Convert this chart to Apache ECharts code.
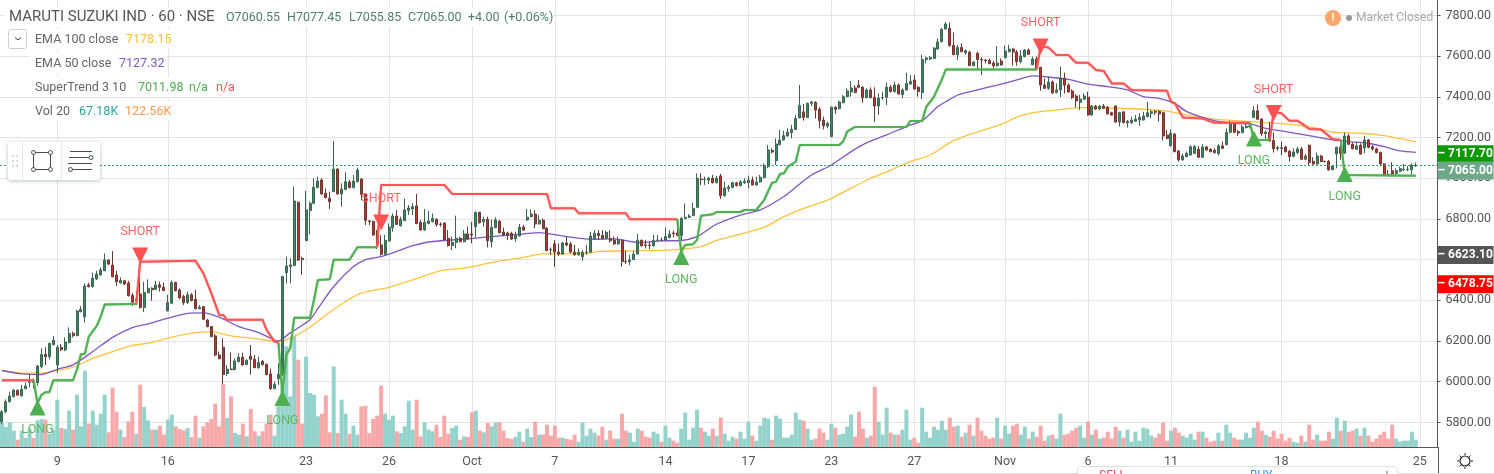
<!DOCTYPE html>
<html><head><meta charset="utf-8">
<style>html,body{margin:0;padding:0;background:#fff;overflow:hidden}#c{width:1494px;height:474px}</style>
<script src="https://cdn.jsdelivr.net/npm/echarts@6/dist/echarts.min.js"></script>
</head><body><div id="c"></div>
<script>
// [open, close, low, high]
const candlesSep = [[5803,5852,5792,5861],[5853,5902,5844,5913],[5902,5929,5897,5951],[5926,5959,5924,5962],[5957,5934,5931,5962],[5931,5962,5926,5984],[5966,5979,5962,5995],[5996,5999,5972,6038],[5999,5997,5967,6015],[5995,6077,5979,6082],
[6074,6134,6065,6164],[6134,6123,6082,6169],[6123,6188,6110,6192],[6182,6203,6179,6224],[6082,6169,6044,6180],[6169,6157,6150,6185],[6156,6195,6150,6218],[6192,6237,6188,6267],[6237,6226,6218,6246],[6226,6347,6224,6352],
[6344,6355,6341,6372],[6319,6470,6290,6483],[6475,6467,6463,6486],[6467,6508,6463,6536],[6505,6529,6500,6545],[6524,6549,6522,6562],[6545,6598,6545,6631],[6598,6578,6573,6601],[6573,6516,6513,6642],[6524,6491,6470,6545],
[6485,6498,6483,6513],[6496,6480,6475,6499],[6485,6423,6418,6496],[6424,6391,6372,6437],[6398,6406,6377,6442],[6431,6365,6360,6508],[6365,6439,6342,6491],[6437,6459,6434,6503],[6459,6452,6398,6464],[6454,6475,6450,6496],
[6476,6464,6443,6492],[6464,6448,6445,6487],[6348,6389,6345,6427],[6386,6487,6382,6497],[6487,6448,6443,6492],[6451,6412,6405,6459],[6418,6389,6377,6427],[6389,6427,6382,6443],[6427,6399,6394,6435],[6405,6358,6356,6451],
[6359,6366,6356,6377],[6369,6307,6304,6372],[6303,6271,6267,6308],[6271,6221,6220,6274],[6225,6131,6126,6234],[6131,6113,6110,6148],[6169,6035,5989,6213],[6040,6062,6028,6082],[6062,6059,6057,6143],[6059,6102,6057,6115],
[6099,6120,6094,6140],[6120,6082,6079,6143],[6084,6105,6082,6110],[6125,6110,6035,6180],[6110,6069,6066,6131],[6069,6095,6063,6123],[6100,6084,6079,6107],[6085,6035,6031,6090],[6038,5966,5959,6065],[5966,5987,5963,6000],
[6015,6036,5984,6090],[6038,6517,6030,6520],[6536,6569,6484,6615],[6566,6574,6484,6607],[6570,6888,6570,6959],[6882,6598,6593,6885],[6606,6600,6525,6615],[6693,6844,6693,6937],[6841,6877,6724,6885],[6877,6955,6873,7000],
[6954,6986,6950,7008],[6991,6923,6918,7000],[6926,6905,6901,6950],[6901,6885,6849,6934],[6934,7045,6934,7183],[7045,6923,6918,7049],[6923,6947,6860,6975],[6944,6983,6942,7029],[6981,6954,6950,6991],[6954,6986,6950,7016],
[6983,7040,6980,7052],[6996,6921,6893,7000],[6921,6793,6770,6926],[6790,6787,6770,6795],[6788,6721,6718,6790],[6726,6675,6652,6746],[6672,6626,6620,6720],[6626,6695,6623,6721]];
const candlesOct = [[6692,6759,6688,6778],[6757,6814,6737,6827],
[6814,6773,6770,6844],[6767,6798,6762,6811],[6791,6844,6790,6901],[6842,6854,6819,6868],[6849,6860,6819,6877],[6864,6778,6773,6923],[6783,6746,6742,6795],[6746,6783,6742,6849],[6778,6790,6773,6839],[6787,6803,6783,6827],
[6798,6773,6762,6803],[6775,6773,6762,6783],[6780,6698,6695,6783],[6705,6669,6664,6746],[6669,6685,6647,6713],[6685,6705,6656,6816],[6705,6688,6685,6713],[6688,6726,6685,6746],[6726,6701,6696,6762],[6726,6721,6680,6786],
[6762,6832,6709,6836],[6832,6781,6778,6835],[6786,6798,6762,6811],[6798,6693,6660,6811],[6688,6759,6660,6798],[6757,6795,6754,6808],[6788,6732,6729,6795],[6736,6721,6716,6758],[6731,6719,6696,6737],[6729,6701,6696,6737],
[6703,6719,6688,6737],[6716,6760,6713,6775],[6760,6745,6742,6770],[6795,6808,6791,6849],[6811,6824,6808,6847],[6824,6775,6754,6844],[6775,6793,6773,6819],[6793,6752,6749,6803],[6755,6644,6642,6759],[6650,6649,6623,6660],
[6677,6637,6565,6696],[6637,6627,6618,6680],[6627,6682,6623,6688],[6682,6672,6664,6713],[6677,6637,6631,6688],[6637,6624,6619,6672],[6624,6636,6619,6655],[6614,6636,6595,6647],[6636,6637,6623,6672],[6636,6716,6634,6737],
[6705,6729,6700,6745],[6729,6718,6696,6745],[6719,6703,6700,6745],[6705,6734,6701,6742],[6703,6693,6683,6745],[6696,6677,6673,6713],[6677,6696,6673,6713],[6696,6590,6565,6699],[6591,6590,6578,6644],[6590,6598,6573,6623],
[6600,6627,6598,6644],[6627,6695,6627,6726],[6695,6668,6663,6699],[6673,6670,6655,6696],[6672,6670,6652,6688],[6668,6695,6663,6721],[6695,6696,6691,6721],[6696,6695,6691,6709],[6696,6714,6693,6758],[6709,6726,6704,6745],
[6731,6727,6709,6742],[6731,6718,6716,6798],[6718,6803,6696,6808],[6801,6808,6800,6876],[6808,6814,6804,6824],[6816,6852,6814,6880],[6857,7000,6857,7024],[6995,6993,6967,7024],[6994,6995,6967,7008],[6991,7000,6972,7008],
[7000,6978,6975,7016],[6978,7000,6975,7011],[7011,6914,6898,7021],[6914,6952,6910,6983],[6949,6957,6934,6967],[6955,6978,6950,6983],[6977,6964,6959,6983],[6964,6982,6959,6991],[6978,6985,6972,7000],[6978,6991,6950,7013],
[6991,6967,6965,7008],[6967,6982,6965,7008],[6982,7005,6978,7016],[7003,7060,7000,7073],[7057,7139,7049,7163],[7137,7129,7122,7147],[7086,7168,7065,7196],[7165,7188,7162,7237],[7188,7209,7185,7234],[7208,7227,7204,7245],
[7224,7240,7196,7262],[7240,7294,7237,7311],[7296,7358,7296,7458],[7326,7299,7283,7365],[7298,7368,7296,7371],[7368,7375,7355,7380],[7373,7335,7294,7378],[7339,7283,7245,7349],[7286,7258,7240,7303],[7257,7270,7245,7278],
[7204,7349,7204,7352],[7349,7339,7316,7355],[7342,7375,7339,7381],[7371,7401,7368,7409],[7401,7429,7398,7442],[7424,7444,7401,7478],[7444,7421,7418,7458],[7457,7447,7442,7483],[7447,7396,7371,7453],[7396,7434,7393,7442],
[7434,7396,7393,7447],[7398,7355,7278,7447],[7355,7394,7311,7417],[7396,7397,7385,7425],[7398,7447,7360,7470],[7447,7426,7421,7458],[7426,7458,7421,7475],[7458,7414,7411,7466],[7411,7434,7393,7442],[7434,7466,7431,7519],
[7463,7476,7460,7507],[7483,7439,7434,7507],[7447,7426,7401,7453],[7421,7584,7389,7606],[7584,7591,7565,7597],[7586,7593,7581,7601],[7589,7640,7586,7643],[7635,7670,7632,7688],[7671,7732,7668,7737],[7733,7758,7732,7768],
[7737,7652,7647,7765],[7653,7607,7606,7717],[7607,7643,7581,7655],[7643,7622,7619,7663],[7617,7627,7606,7634],[7620,7553,7552,7627],[7553,7571,7550,7575],[7614,7584,7532,7622],[7584,7581,7507,7594],[7581,7578,7565,7586],
[7579,7563,7560,7588],[7566,7553,7540,7576],[7553,7566,7548,7650]];
const candlesNov = [[7576,7557,7553,7589],[7593,7625,7589,7652],[7622,7635,7619,7655],[7635,7620,7553,7639],[7620,7573,7553,7630],[7573,7601,7565,7630],[7598,7630,7594,7635],
[7630,7609,7606,7638],[7558,7586,7555,7598],[7586,7540,7532,7598],[7545,7458,7430,7548],[7458,7442,7439,7491],[7442,7473,7434,7499],[7473,7419,7416,7480],[7422,7434,7417,7466],[7434,7491,7398,7548],[7491,7457,7417,7519],
[7458,7424,7421,7466],[7429,7396,7389,7437],[7404,7380,7347,7412],[7373,7389,7335,7409],[7388,7404,7385,7417],[7398,7311,7308,7425],[7311,7355,7308,7360],[7355,7340,7335,7360],[7340,7355,7335,7360],[7355,7344,7340,7365],
[7350,7316,7314,7355],[7322,7311,7308,7327],[7355,7276,7273,7358],[7276,7322,7254,7327],[7326,7273,7270,7331],[7272,7280,7249,7286],[7273,7286,7267,7303],[7280,7291,7276,7311],[7286,7299,7257,7319],[7286,7306,7283,7327],
[7303,7322,7299,7376],[7319,7327,7294,7335],[7329,7324,7311,7335],[7329,7316,7278,7335],[7322,7208,7185,7326],[7212,7195,7191,7237],[7160,7221,7155,7240],[7217,7131,7127,7221],[7134,7090,7082,7139],[7090,7109,7086,7122],
[7106,7122,7103,7131],[7114,7155,7111,7162],[7122,7155,7119,7163],[7142,7103,7100,7159],[7103,7154,7100,7167],[7154,7139,7136,7159],[7142,7131,7127,7147],[7137,7126,7122,7147],[7122,7159,7111,7167],[7159,7147,7144,7180],
[7165,7226,7162,7245],[7226,7270,7221,7283],[7267,7226,7221,7273],[7229,7222,7208,7237],[7224,7252,7221,7262],[7249,7255,7245,7267],[7252,7257,7250,7273],[7299,7332,7296,7355],[7331,7290,7286,7363],[7291,7219,7208,7295],
[7219,7227,7191,7234],[7227,7183,7180,7278],[7186,7145,7126,7224],[7150,7147,7136,7158],[7150,7147,7114,7180],[7154,7131,7126,7160],[7132,7106,7082,7139],[7108,7129,7103,7147],[7126,7144,7119,7155],[7144,7093,7090,7155],
[7093,7109,7088,7119],[7162,7077,7062,7165],[7083,7070,7067,7103],[7070,7109,7067,7126],[7109,7082,7078,7114],[7083,7082,7078,7086],[7083,7041,7037,7090],[7042,7060,7039,7065],[7119,7152,7049,7155],[7152,7123,7090,7163],
[7123,7208,7119,7224],[7208,7167,7163,7218],[7168,7145,7142,7175],[7142,7159,7139,7180],[7162,7119,7116,7172],[7149,7188,7122,7208],[7188,7152,7147,7193],[7155,7144,7136,7162],[7144,7126,7122,7150],[7127,7070,7062,7131],
[7070,7016,7013,7073],[7019,7016,7013,7040],[7037,7021,7008,7078],[7024,7037,7016,7049],[7034,7047,7031,7057],[7042,7044,7034,7070],[7042,7044,7034,7060],[7042,7065,7016,7073],[7060.55,7065,7055.85,7077.45]];
// volume in thousands
const volumeSep = [222,180,222,147,66,147,81,165,81,240,252,246,120,156,426,171,162,327,156,471,186,687,210,327,201,300,471,132,534,318,156,90,231,318,120,561,360,240,156,156,192,111,246,291,186,162,150,171,90,282,84,186,222,252,390,186,570,261,456,126,111,210,96,342,141,102,141,210,291,102,366,546,906,456,1002,786,210,813,486,471,276,300,465,132,726,126,426,300,120,192,111,366,372,126,252,282,552,300];
const volumeOct = [246,282,141,126,186,417,156,426,96,222,156,141,201,90,282,120,171,192,66,96,90,312,327,147,132,216,186,222,222,147,81,72,90,138,48,165,90,228,111,111,201,102,192,84,84,72,66,111,48,222,102,165,129,102,183,66,147,75,75,300,147,129,48,165,147,93,84,138,120,48,192,84,57,39,165,309,66,174,336,174,138,102,165,102,264,120,57,93,75,138,75,228,102,57,192,264,255,66,282,255,84,84,111,309,246,237,165,66,75,165,129,66,210,174,111,120,183,291,93,318,165,84,102,543,228,111,354,129,111,111,156,336,66,84,39,354,138,84,183,156,237,156,264,183,192,93,129,201,102,264,147,102,75,84,264];
const volumeNov = [75,192,120,192,210,111,183,75,138,93,192,57,102,111,75,300,111,120,147,174,192,84,228,111,156,75,84,138,75,183,147,84,156,48,138,57,174,165,102,84,120,219,57,147,174,129,102,84,120,66,138,138,84,48,57,129,57,201,129,84,66,66,129,84,174,228,147,111,93,147,75,120,57,84,48,39,102,48,201,66,111,57,57,138,75,264,147,237,138,147,165,102,174,102,48,75,111,138,75,201,75,48,57,57,138,66];
// [bar, price] knots
const ema50 = [[0,6055],[5,6038],[10,6035],[14,6061],[18,6083],[23,6148],[28,6218],[33,6266],[37,6284],[42,6312],[47,6336],[51,6338],[55,6317],[60,6271],[65,6241],[69,6205],[70,6200],[71,6210],[73,6240],[78,6304],[80,6360],[84,6468],[89,6566],[92,6599],[96,6615],[101,6648],[104,6669],[109,6689],[118,6702],[126,6717],[132,6726],[136,6733],[143,6713],[149,6700],[155,6702],[161,6684],[167,6692],[172,6694],[176,6713],[178,6737],[181,6775],[187,6819],[192,6844],[198,6910],[202,6972],[205,7016],[210,7065],[215,7131],[219,7175],[224,7213],[229,7254],[233,7283],[237,7352],[239,7376],[242,7409],[247,7434],[252,7458],[257,7483],[261,7503],[264,7499],[270,7486],[275,7462],[280,7450],[285,7434],[289,7401],[293,7393],[297,7368],[300,7327],[307,7283],[312,7270],[316,7267],[320,7245],[325,7229],[331,7209],[337,7188],[341,7180],[346,7172],[350,7155],[354,7134],[358,7127.32]];
const ema100 = [[0,6055],[5,6042],[10,6042],[14,6055],[18,6071],[23,6115],[28,6148],[33,6178],[37,6189],[42,6214],[47,6235],[53,6246],[58,6225],[65,6209],[70,6197],[73,6214],[77,6255],[82,6328],[87,6394],[91,6435],[98,6464],[104,6500],[111,6545],[118,6561],[126,6594],[131,6607],[137,6628],[148,6631],[151,6640],[160,6643],[170,6648],[177,6664],[181,6695],[193,6759],[198,6811],[203,6852],[208,6885],[211,6910],[215,6951],[220,7000],[225,7040],[230,7082],[235,7114],[240,7175],[244,7208],[253,7265],[257,7300],[261,7322],[267,7335],[273,7347],[282,7344],[289,7339],[295,7330],[300,7311],[307,7290],[316,7278],[325,7267],[333,7245],[337,7226],[344,7221],[350,7209],[358,7178.15]];
const trendShort1 = [[0,6007],[8,6007]];
const trendLong1 = [[8,6007],[9,5894],[10,5935],[11,5948],[12,5948],[13,6007],[18,6007],[19,6060],[20,6135],[21,6137],[22,6222],[24,6274],[25,6320],[26,6379],[33,6382],[34,6382]];
const trendShort2 = [[34,6382],[35,6590],[49,6594],[51,6533],[53,6435],[55,6328],[56,6328],[57,6304],[66,6304],[67,6255],[69,6197],[70,6192]];
const trendLong2 = [[70,6192],[71,5944],[72,6132],[73,6165],[74,6314],[78,6314],[79,6402],[80,6500],[83,6503],[84,6599],[88,6599],[90,6661],[95,6661]];
const trendShort3 = [[95,6661],[96,6967],[112,6967],[114,6923],[138,6923],[139,6852],[145,6852],[146,6828],[158,6828],[159,6798],[171,6798]];
const trendLong3 = [[171,6798],[172,6640],[173,6672],[175,6676],[176,6697],[177,6816],[180,6823],[181,6834],[187,6834],[188,6844],[191,6844],[193,6893],[195,6978],[196,6982],[197,7021],[198,7024],[199,7057],[201,7081],[202,7163],[212,7163],[213,7180],[214,7229],[216,7252],[229,7252],[230,7281],[233,7281],[234,7349],[236,7401],[238,7486],[239,7535],[262,7535]];
const trendShort4 = [[262,7535],[263,7647],[265,7642],[267,7606],[270,7606],[272,7568],[275,7568],[277,7532],[279,7527],[281,7466],[284,7466],[286,7434],[295,7430],[296,7376],[297,7368],[299,7299],[304,7293],[307,7273],[316,7273]];
const trendLong4 = [[316,7273],[317,7188],[321,7188]];
const trendShort5 = [[321,7188],[322,7324],[324,7319],[326,7283],[328,7283],[330,7257],[331,7242],[334,7240],[337,7191],[339,7188]];
const trendLong5 = [[339,7188],[340,7016],[358,7011.98]];
const longSignals = [[9,5873],[71,5920],[172,6613],[317,7195],[340,7021]];
const shortSignals = [[35,6620],[96,6782],[263,7647],[322,7321]];
const xTickBars = [14,42,77,98,119,140,168,189,210,231,254,275,296,324,359];
const xTickLabels = ['9','16','23','26','Oct','7','14','17','23','27','Nov','6','11','18','25'];
const yTickValues = [5800,6000,6200,6400,6600,6800,7000,7200,7400,7600,7800];
const priceTags = [['7117.70',7117.7,'#0a9a00',0],['7065.00',7065,'#6ea889',5.5],['6623.10',6623.1,'#555555',0],['6478.75',6478.75,'#ff0000',0]];

const FONT = 'Roboto';
const candles = candlesSep.concat(candlesOct, candlesNov);
const volumes = volumeSep.concat(volumeOct, volumeNov);
const slots = Array.from({length:364},(_, i)=>String(i));
const tickMap = {}; xTickBars.forEach((b,k)=>tickMap[b]=xTickLabels[k]);
const isTick = (i)=>tickMap[i]!==undefined;
const volData = volumes.map((v,i)=>({value:v,itemStyle:{color:candles[i][1]>=candles[i][0]?'#94d3cc':'#f6a9a8'}}));

function trend(data,color){return {type:'line',data,xAxisIndex:0,yAxisIndex:0,showSymbol:false,symbol:'none',z:4,silent:true,
  lineStyle:{color,width:2,shadowColor:color,shadowBlur:1,opacity:.9}}}
function text(x,y,t,fill,size,extra){return Object.assign({type:'text',silent:true,z:100,style:{x,y,text:t,fill,font:`${size||12.5}px ${FONT}`,verticalAlign:'middle'}},extra||{})}
function rect(x,y,w,h,fill){return {type:'rect',silent:true,z:90,shape:{x,y,width:w,height:h},style:{fill}}}
function line(x1,y1,x2,y2,stroke,w,z){return {type:'line',silent:true,z:z||100,shape:{x1,y1,x2,y2},style:{stroke,lineWidth:w||1}}}
function dot(cx,cy,r,fill,stroke,w){return {type:'circle',silent:true,z:100,shape:{cx,cy,r},style:{fill,stroke,lineWidth:w||1}}}

const graphics = [
  rect(4,8,550,19,'#fff'),rect(30,29,142,20,'#fff'),rect(30,53,136,20,'#fff'),rect(30,77,208,20,'#fff'),rect(30,101,143,20,'#fff'),
  text(9,17,'MARUTI SUZUKI IND · 60 · NSE','#555',15),
  text(226,17.5,'O7060.55','#4f8069'),text(287,17.5,'H7077.45','#4f8069'),text(349,17.5,'L7055.85','#4f8069'),text(408,17.5,'C7065.00','#4f8069'),text(468,17.5,'+4.00','#4f8069'),text(504,17.5,'(+0.06%)','#4f8069'),
  {type:'rect',silent:true,z:100,shape:{x:8.5,y:29.5,width:18,height:19,r:2},style:{fill:'#fff',stroke:'#ccccdd',lineWidth:1}},
  {type:'polyline',silent:true,z:101,shape:{points:[[15,37.5],[18,40],[21,37.5]]},style:{stroke:'#333',lineWidth:1,fill:null}},
  text(35,39.5,'EMA 100 close','#666'),text(126,39.5,'7178.15','#ffc033'),
  text(35,63.5,'EMA 50 close','#666'),text(119,63.5,'7127.32','#7e57c2'),
  text(35,87.5,'SuperTrend 3 10','#666'),text(138,87.5,'7011.98','#4caf50'),text(189,87.5,'n/a','#4caf50'),text(216,87.5,'n/a','#ff5252'),
  text(35,111.5,'Vol 20','#666'),text(79,111.5,'67.18K','#26a69a'),text(125,111.5,'122.56K','#ff9850'),
  {type:'rect',silent:true,z:95,shape:{x:8,y:142,width:92,height:38,r:3},style:{fill:'#fff',shadowColor:'rgba(60,70,100,.35)',shadowBlur:4,shadowOffsetY:1}},
  line(22.5,142,22.5,180,'#e6e6ee'),line(61.5,142,61.5,180,'#e6e6ee'),
  dot(13,156,1,'#ccc',null,0),dot(17,156,1,'#ccc',null,0),dot(13,161,1,'#ccc',null,0),dot(17,161,1,'#ccc',null,0),dot(13,166,1,'#ccc',null,0),dot(17,166,1,'#ccc',null,0),
  {type:'rect',silent:true,z:100,shape:{x:33.5,y:152.5,width:17,height:17},style:{fill:null,stroke:'#4a4f57',lineWidth:1}},
  dot(33.5,152.5,2,'#fff','#4a4f57'),dot(50.5,152.5,2,'#fff','#4a4f57'),dot(33.5,169.5,2,'#fff','#4a4f57'),dot(50.5,169.5,2,'#fff','#4a4f57'),
  line(70,151.5,92,151.5,'#4a4f57'),line(69,157.5,89,157.5,'#4a4f57'),line(68,163.5,92,163.5,'#4a4f57'),line(73,169.5,92,169.5,'#4a4f57'),
  dot(91,157.5,2,'#fff','#4a4f57'),dot(70.5,169.5,2,'#fff','#4a4f57'),
  dot(1333,18,8,'#ffa76b',null,0),text(1333,18,'!','#fff',11,{style:{x:1333,y:18,text:'!',fill:'#fff',font:`bold 11px ${FONT}`,align:'center',verticalAlign:'middle'}}),
  dot(1349,18,3,'#999',null,0),text(1356,18,'Market Closed','#aaa',12),
  line(1438.5,447,1438.5,474,'#555',1,50),line(0,473.5,1494,473.5,'#e0e0e0',1,50),
  dot(1465,461,5,'#fff','#222',1.2),
  line(1465,453,1465,455,'#222'),line(1465,467,1465,469,'#222'),line(1457,461,1459,461,'#222'),line(1471,461,1473,461,'#222'),
  line(1459.5,455.5,1461,457,'#222'),line(1469,465,1470.5,466.5,'#222'),line(1459.5,466.5,1461,465,'#222'),line(1469,457,1470.5,455.5,'#222'),
  {type:'rect',silent:true,z:99,shape:{x:1077.5,y:466.5,width:320,height:20,r:3},style:{fill:'#fff',stroke:'#dfe1ea',lineWidth:1}},
  rect(1092,467,100,7,'#fdf0f2'),rect(1242,467,100,7,'#eef6fd'),
  text(1099,476,'SELL','#f04a6a',12,{z:101}),text(1250,476,'BUY','#2a9bf0',12,{z:101}),line(1387,471,1387,474,'#666',1,101)
];

const chart = echarts.init(document.getElementById('c'),null,{renderer:'canvas'});
chart.setOption({
  animation:false,backgroundColor:'#fff',
  grid:{left:0,right:55.5,top:0,height:447,containLabel:false},
  xAxis:{type:'category',data:slots,boundaryGap:true,
    axisLine:{lineStyle:{color:'#555',width:1},onZero:false},
    axisTick:{interval:(i)=>isTick(i),alignWithLabel:true,length:3,lineStyle:{color:'#555'}},
    axisLabel:{interval:(i)=>isTick(i),formatter:(v,i)=>tickMap[i]||'',color:'#555',fontSize:12.5,fontFamily:FONT,margin:8.5,hideOverlap:false,showMinLabel:true,showMaxLabel:true},
    splitLine:{show:true,interval:(i)=>isTick(i),alignWithLabel:true,lineStyle:{color:'#e4e4e4',width:1}}},
  yAxis:[
    {type:'value',position:'right',min:5679,max:7876,
     axisLine:{show:true,lineStyle:{color:'#555',width:1}},
     axisTick:{show:true,length:3,lineStyle:{color:'#555'},customValues:yTickValues},
     axisLabel:{customValues:yTickValues,color:'#555',fontSize:12.5,fontFamily:FONT,margin:8,formatter:(v)=>v.toFixed(2)},
     splitLine:{show:true,lineStyle:{color:'#e4e4e4',width:1}}},
    {type:'value',min:0,max:4023,show:false,splitLine:{show:false}}
  ],
  series:[
    {type:'bar',name:'Volume',data:volData,xAxisIndex:0,yAxisIndex:1,barWidth:4,z:1,silent:true},
    {type:'line',name:'EMA 100',data:ema100,smooth:0.25,showSymbol:false,symbol:'none',z:3,silent:true,lineStyle:{color:'#ffc33b',width:1.3}},
    {type:'line',name:'EMA 50',data:ema50,smooth:0.25,showSymbol:false,symbol:'none',z:3,silent:true,lineStyle:{color:'#7e57c2',width:1.3}},
    {type:'candlestick',name:'Price',data:candles,barWidth:2.5,z:3,silent:true,
     itemStyle:{color:'#378a5e',color0:'#c4302a',borderColor:'#3f6353',borderColor0:'#663a34',borderColorDoji:'#555',borderWidth:1},
     markLine:{symbol:'none',silent:true,animation:false,precision:2,z:20,
       data:priceTags.map(t=>({yAxis:t[1],
         lineStyle:t[0]==='7065.00'?{color:'#2f9e63',type:[2,2],width:1}:{color:'rgba(0,0,0,0)',width:1},
         label:{show:true,position:'end',distance:0,offset:[0,t[3]],formatter:'– '+t[0],backgroundColor:t[2],color:'#fff',fontFamily:FONT,fontWeight:'bold',fontSize:12,width:56,lineHeight:17,align:'left',padding:[1,0,0,0]}}))}},
    trend(trendShort1,'#ff5252'),trend(trendLong1,'#4caf50'),trend(trendShort2,'#ff5252'),trend(trendLong2,'#4caf50'),
    trend(trendShort3,'#ff5252'),trend(trendLong3,'#4caf50'),trend(trendShort4,'#ff5252'),trend(trendLong4,'#4caf50'),
    trend(trendShort5,'#ff5252'),trend(trendLong5,'#4caf50'),
    {type:'scatter',name:'LONG',data:longSignals,symbol:'triangle',symbolSize:[16,16],z:6,silent:true,itemStyle:{color:'#4caf50',opacity:1},
      label:{show:true,position:'bottom',distance:8,formatter:'LONG',color:'#5cb860',fontFamily:FONT,fontSize:12.5}},
    {type:'scatter',name:'SHORT',data:shortSignals,symbol:'triangle',symbolRotate:180,symbolSize:[16,16],z:6,silent:true,itemStyle:{color:'#ff5252',opacity:1},
      label:{show:true,position:'top',distance:9,formatter:'SHORT',color:'#ff6464',fontFamily:FONT,fontSize:12.5}}
  ],
  graphic:{elements:graphics}
});
</script></body></html>
